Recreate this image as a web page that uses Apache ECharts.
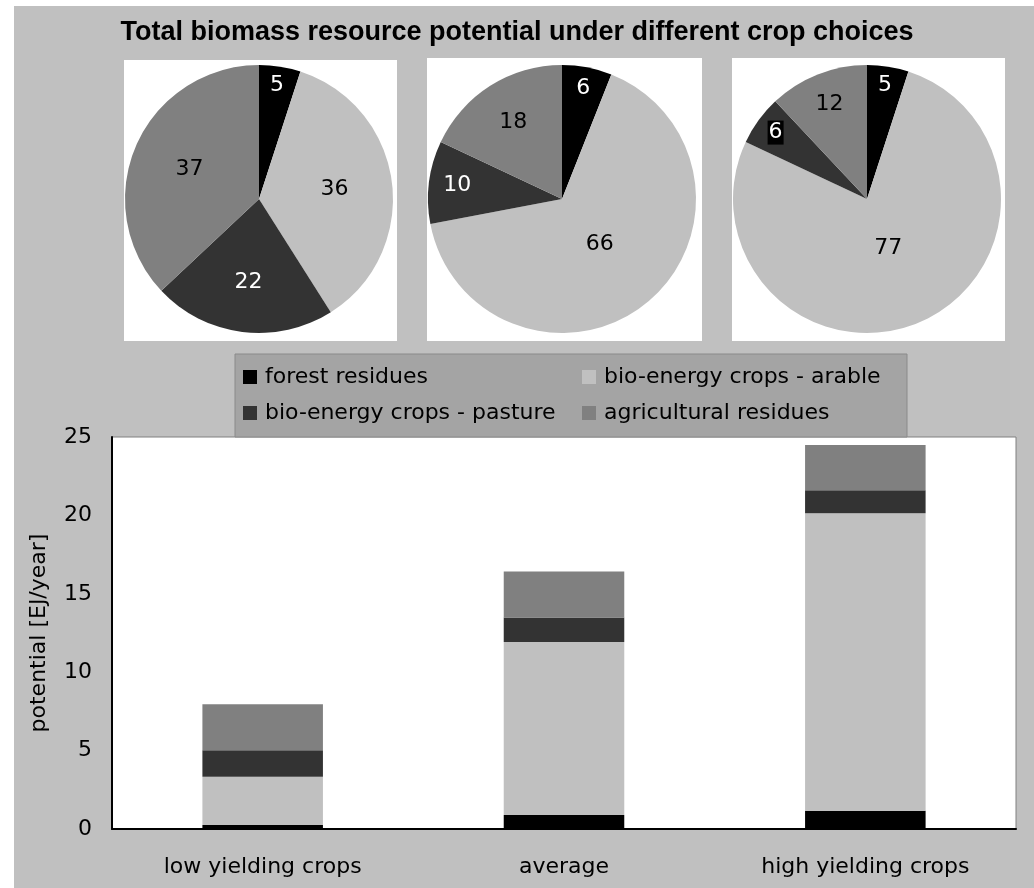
<!DOCTYPE html>
<html>
<head>
<meta charset="utf-8">
<script src="https://cdn.jsdelivr.net/npm/echarts@6/dist/echarts.min.js"></script>
<style>
  html, body { margin: 0; padding: 0; background: #ffffff; }
  #chart { width: 1034px; height: 888px; }
</style>
</head>
<body>
<div id="chart"></div>
<script>
// Scenario categories (bar chart x axis)
const categories = ['low yielding crops', 'average', 'high yielding crops'];

// Resource types, in stacking / legend order
const resourceNames = [
  'forest residues',
  'bio-energy crops - arable',
  'bio-energy crops - pasture',
  'agricultural residues'
];

// Potential per scenario [EJ/year]
const forestResidues = [0.25, 0.89, 1.16];
const arableCrops = [3.08, 11.04, 18.97];
const pastureCrops = [1.70, 1.56, 1.47];
const agriculturalResidues = [2.92, 2.93, 2.89];

// Shares of the total per scenario [%], same order as resourceNames
const sharesLowYield = [5, 36, 22, 37];
const sharesAverage = [6, 66, 10, 18];
const sharesHighYield = [5, 77, 6, 12];

// Value axis ticks
const yMin = 0, yMax = 25, yStep = 5;

const colors = ['#000000', '#c0c0c0', '#333333', '#808080'];
const labelOnDark = [true, false, true, false];
const FONT = 'DejaVu Sans';

const pieCenters = [[259, 199], [562, 199], [867, 199]];
const pieRadius = 134;
const pieShares = [sharesLowYield, sharesAverage, sharesHighYield];

const chart = echarts.init(document.getElementById('chart'), null, { renderer: 'canvas' });

// radial position of a slice label, as a fraction of the radius:
// thin slices keep their label near the rim, wide slices nearer the centre
function labelRadiusRatio(share) {
  if (share < 22) return 0.82 - (share - 5) * 0.013;
  return Math.max(0.36, 0.6 - (share - 22) * 0.004);
}

function pieSeries(idx) {
  const shares = pieShares[idx];
  return {
    type: 'pie',
    center: pieCenters[idx],
    radius: pieRadius,
    startAngle: 90,
    clockwise: true,
    silent: true,
    z: 3,
    label: {
      show: true,
      position: 'inside',
      fontFamily: FONT,
      fontSize: 22,
      formatter: '{c}'
    },
    labelLine: { show: false },
    emphasis: { disabled: true },
    labelLayout: function (p) {
      const c = pieCenters[idx];
      const r = p.labelRect;
      const lx = r.x + r.width / 2, ly = r.y + r.height / 2;
      const k = labelRadiusRatio(shares[p.dataIndex]) / 0.5 - 1;
      return { dx: (lx - c[0]) * k, dy: (ly - c[1]) * k };
    },
    data: shares.map((v, i) => ({
      name: resourceNames[i],
      value: v,
      itemStyle: { color: colors[i] },
      label: (idx === 2 && i === 2)
        ? { color: '#ffffff', backgroundColor: '#000000', padding: [1, 1] }
        : { color: labelOnDark[i] ? '#ffffff' : '#000000' }
    }))
  };
}

const barValues = [forestResidues, arableCrops, pastureCrops, agriculturalResidues];
const barSeries = barValues.map((vals, i) => ({
  type: 'bar',
  name: resourceNames[i],
  stack: 'total',
  barWidth: '40%',
  data: vals,
  itemStyle: { color: colors[i] },
  emphasis: { disabled: true },
  silent: true
}));

const legendText = {
  fontFamily: FONT, fontSize: 22, color: '#000000', lineHeight: 24,
  padding: [0, 0, 0, 3]
};

function legendColumn(names, left) {
  return {
    data: names,
    orient: 'vertical',
    left: left,
    top: 365,
    padding: 0,
    itemWidth: 14,
    itemHeight: 14,
    itemGap: 12,
    icon: 'rect',
    selectedMode: false,
    textStyle: legendText
  };
}

const option = {
  backgroundColor: '#c0c0c0',
  animation: false,
  title: {
    text: 'Total biomass resource potential under different crop choices',
    left: 'center',
    top: 14,
    textStyle: {
      fontFamily: 'Liberation Sans',
      fontWeight: 'bold',
      fontSize: 27,
      color: '#000000'
    }
  },
  graphic: [
    // white page margins at top and left
    { type: 'rect', shape: { x: 0, y: 0, width: 1034, height: 6 }, style: { fill: '#ffffff' }, z: 1, silent: true },
    { type: 'rect', shape: { x: 0, y: 0, width: 14, height: 888 }, style: { fill: '#ffffff' }, z: 1, silent: true },
    // pie panels
    { type: 'rect', shape: { x: 124, y: 60, width: 273, height: 281 }, style: { fill: '#ffffff' }, z: 1, silent: true },
    { type: 'rect', shape: { x: 427, y: 58, width: 275, height: 283 }, style: { fill: '#ffffff' }, z: 1, silent: true },
    { type: 'rect', shape: { x: 732, y: 58, width: 273, height: 283 }, style: { fill: '#ffffff' }, z: 1, silent: true },
    // legend box
    { type: 'rect', shape: { x: 235, y: 354, width: 672, height: 83 }, style: { fill: '#a4a4a4', stroke: '#8a8a8a', lineWidth: 1 }, z: 1, silent: true }
  ],
  legend: [
    legendColumn([resourceNames[0], resourceNames[2]], 243),
    legendColumn([resourceNames[1], resourceNames[3]], 582)
  ],
  grid: {
    left: 112,
    right: 18,
    top: 437,
    bottom: 59,
    show: true,
    backgroundColor: '#ffffff',
    borderColor: '#808080',
    borderWidth: 1
  },
  xAxis: {
    type: 'category',
    data: categories,
    axisLine: { show: true, lineStyle: { color: '#000000', width: 2 } },
    axisTick: { show: false },
    axisLabel: { fontFamily: FONT, fontSize: 22, color: '#000000', margin: 27 },
    splitLine: { show: false }
  },
  yAxis: {
    type: 'value',
    min: yMin,
    max: yMax,
    interval: yStep,
    name: 'potential [EJ/year]',
    nameLocation: 'middle',
    nameGap: 62,
    nameTextStyle: { fontFamily: FONT, fontSize: 22, color: '#000000' },
    axisLine: { show: true, lineStyle: { color: '#000000', width: 2 } },
    axisTick: { show: false },
    axisLabel: { fontFamily: FONT, fontSize: 22, color: '#000000', margin: 20 },
    splitLine: { show: false }
  },
  series: [pieSeries(0), pieSeries(1), pieSeries(2)].concat(barSeries)
};

chart.setOption(option);
</script>
</body>
</html>
